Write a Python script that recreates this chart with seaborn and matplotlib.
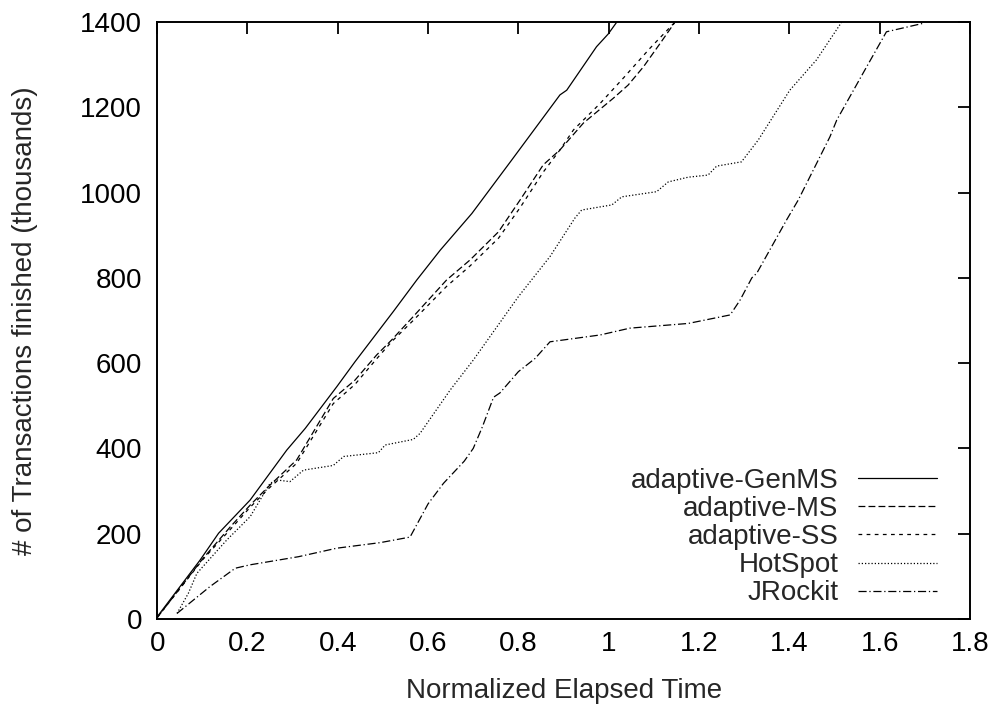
import numpy as np
import pandas as pd
import matplotlib
matplotlib.use("Agg")
import matplotlib.pyplot as plt
import seaborn as sns

# values
genms_x = [0, 0.095, 0.136, 0.206, 0.287, 0.328, 0.398, 0.438, 0.523, 0.575, 0.627,
           0.697, 0.785, 0.892, 0.907, 0.973, 0.999, 1.018]
genms_y = [5, 138, 201, 279, 396, 447, 545, 603, 721, 795, 865,
           951, 1076, 1229, 1240, 1342, 1372, 1400]

ms_x = [0, 0.1, 0.162, 0.206, 0.246, 0.309, 0.39, 0.438, 0.486, 0.519, 0.567, 0.641,
        0.693, 0.756, 0.804, 0.855, 0.892, 0.944, 1.010, 1.043, 1.077, 1.114, 1.147]
ms_y = [3, 140, 216, 267, 310, 373, 517, 560, 619, 654, 709, 795,
        842, 908, 983, 1065, 1100, 1163, 1221, 1252, 1295, 1350, 1400]

ss_x = [0, 0.1, 0.162, 0.206, 0.246, 0.309, 0.39, 0.438, 0.486, 0.519, 0.567, 0.641,
        0.693, 0.756, 0.804, 0.855, 0.892, 0.922, 0.981, 1.032, 1.091, 1.147]
ss_y = [3, 138, 210, 262, 305, 365, 505, 550, 610, 650, 700, 780,
        828, 893, 965, 1048, 1100, 1147, 1209, 1268, 1338, 1400]

hotspot_x = [0.044, 0.069, 0.088, 0.154, 0.206, 0.250, 0.265, 0.294, 0.324, 0.390, 0.413,
             0.490, 0.505, 0.567, 0.582, 0.649, 0.700, 0.800, 0.870, 0.925, 0.940, 1.007,
             1.029, 1.106, 1.132, 1.176, 1.220, 1.239, 1.294, 1.331, 1.401, 1.460, 1.516]
hotspot_y = [13, 60, 107, 185, 240, 318, 326, 322, 349, 360, 381,
             390, 408, 421, 435, 537, 607, 756, 850, 940, 959, 971,
             990, 1002, 1025, 1036, 1041, 1062, 1072, 1123, 1240, 1311, 1400]

jrockit_x = [0.044, 0.117, 0.173, 0.206, 0.313, 0.398, 0.494, 0.560, 0.600, 0.634, 0.680,
             0.700, 0.720, 0.745, 0.759, 0.800, 0.837, 0.870, 0.981, 1.047, 1.176, 1.269,
             1.291, 1.317, 1.328, 1.394, 1.420, 1.490, 1.505, 1.567, 1.615, 1.697]
jrockit_y = [13, 76, 119, 127, 146, 166, 179, 192, 270, 318, 370,
             400, 450, 520, 530, 580, 611, 650, 666, 682, 693, 713,
             748, 800, 811, 936, 983, 1131, 1170, 1287, 1377, 1397]

labels = ["adaptive-GenMS", "adaptive-MS", "adaptive-SS", "HotSpot", "JRockit"]
xs = [genms_x, ms_x, ss_x, hotspot_x, jrockit_x]
ys = [genms_y, ms_y, ss_y, hotspot_y, jrockit_y]

x_ticks = [0, 0.2, 0.4, 0.6, 0.8, 1.0, 1.2, 1.4, 1.6, 1.8]
x_tick_labels = ["0", "0.2", "0.4", "0.6", "0.8", "1", "1.2", "1.4", "1.6", "1.8"]
y_ticks = [0, 200, 400, 600, 800, 1000, 1200, 1400]

sns.set_style("white")
plt.rcParams["font.family"] = ["Liberation Sans", "DejaVu Sans"]

# gnuplot-like dash patterns
dash_styles = [
    "-",
    (0, (5.5, 2.5)),
    (0, (3, 3.5)),
    (0, (1, 1.6)),
    (0, (6.5, 2.2, 1, 2.2)),
]

fig = plt.figure(figsize=(10.01, 7.09), dpi=100)
ax = fig.add_axes([0.157, 0.127, 0.812, 0.842])

for lab, x, y, ls in zip(labels, xs, ys, dash_styles):
    df = pd.DataFrame({"x": x, "y": y})
    sns.lineplot(data=df, x="x", y="y", ax=ax, color="black", linewidth=0.9,
                 linestyle=ls, label=lab, sort=False, estimator=None)

ax.set_xlim(0, 1.8)
ax.set_ylim(0, 1400)
ax.set_xticks(x_ticks)
ax.set_xticklabels(x_tick_labels)
ax.set_yticks(y_ticks)
ax.tick_params(direction="in", length=8.5, width=1.3, labelsize=20,
               top=True, right=True, colors="black")
ax.tick_params(axis="x", pad=9)
ax.tick_params(axis="y", pad=11)
for sp in ax.spines.values():
    sp.set_visible(True)
    sp.set_color("black")
    sp.set_linewidth(1.4)

ax.set_xlabel("Normalized Elapsed Time", fontsize=20, labelpad=15)
ax.set_ylabel("# of Transactions finished (thousands)", fontsize=20, labelpad=30)

leg = ax.legend(loc="lower right", frameon=False, fontsize=20, markerfirst=False,
                handlelength=2.85, handletextpad=0.7, labelspacing=0.08,
                borderaxespad=0.05, bbox_to_anchor=(0.975, 0.0))
for t in leg.get_texts():
    t.set_ha("right")

fig.savefig("out.png", dpi=100)
